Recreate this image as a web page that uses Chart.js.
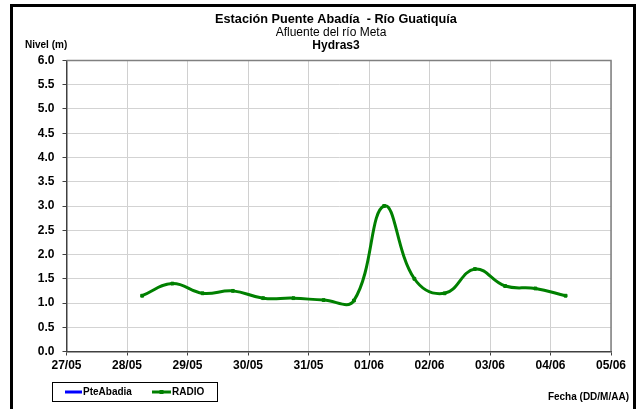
<!DOCTYPE html>
<html>
<head>
<meta charset="utf-8">
<script src="https://cdn.jsdelivr.net/npm/chart.js@4/dist/chart.umd.min.js"></script>
<style>
html,body{margin:0;padding:0;background:#fff;}
canvas{display:block;}
</style>
</head>
<body>
<canvas id="c" width="640" height="409"></canvas>
<script>
// ---- data ----
const tickLabels = ['27/05','28/05','29/05','30/05','31/05','01/06','02/06','03/06','04/06','05/06'];
const yTicks = [0,0.5,1,1.5,2,2.5,3,3.5,4,4.5,5,5.5,6];
const fechas = ['28/05 06:00','28/05 18:00','29/05 06:00','29/05 18:00','30/05 06:00','30/05 18:00',
                '31/05 06:00','31/05 18:00','01/06 06:00','01/06 18:00','02/06 06:00','02/06 18:00',
                '03/06 06:00','03/06 18:00','04/06 06:00'];
const radio = [1.15,1.40,1.20,1.25,1.10,1.10,1.06,1.05,3.00,1.50,1.20,1.70,1.35,1.30,1.15];
const pteAbadia = [];
const seriesNames = ['PteAbadia','RADIO'];
const titleLines = ['Estación Puente Abadía  - Río Guatiquía','Afluente del río Meta','Hydras3'];
const yTitle = 'Nivel (m)';
const xTitle = 'Fecha (DD/M/AA)';

function toX(s){
  const [d,t] = s.split(' ');
  const [hh,mm] = t.split(':').map(Number);
  return tickLabels.indexOf(d) + hh/24 + mm/1440;
}
const radioPts = fechas.map((f,i)=>({x:toX(f), y:radio[i]}));

const FONT = '"Liberation Sans", Arial, sans-serif';
Chart.defaults.font.family = FONT;

const decor = {
  id:'decor',
  beforeDatasetsDraw(chart){
    const {ctx, chartArea:a} = chart;
    ctx.save();
    ctx.strokeStyle = '#808080';
    ctx.lineWidth = 1.5;
    ctx.beginPath();
    ctx.moveTo(a.left, a.top); ctx.lineTo(a.right, a.top); ctx.lineTo(a.right, a.bottom);
    ctx.stroke();
    ctx.restore();
  },
  afterDraw(chart){
    const ctx = chart.ctx;
    ctx.save();
    ctx.fillStyle = '#000';
    ctx.textAlign = 'center';
    ctx.textBaseline = 'middle';
    ctx.font = 'bold 12.7px ' + FONT;
    ctx.fillText(titleLines[0], 336, 19.5);
    ctx.font = '12px ' + FONT;
    ctx.fillText(titleLines[1], 331, 33);
    ctx.font = 'bold 12px ' + FONT;
    ctx.fillText(titleLines[2], 336, 45.5);
    ctx.font = 'bold 10px ' + FONT;
    ctx.textAlign = 'left';
    ctx.fillText(yTitle, 25, 45);
    ctx.textAlign = 'right';
    ctx.fillText(xTitle, 629, 397);
    // legend
    ctx.lineWidth = 1;
    ctx.strokeStyle = '#000';
    ctx.strokeRect(52.5, 382.5, 165, 19);
    const ds = chart.data.datasets;
    const items = [{x0:65,x1:82,tx:83},{x0:152,x1:171,tx:172}];
    ctx.textAlign = 'left';
    ctx.font = 'bold 10px ' + FONT;
    items.forEach((it,i)=>{
      ctx.strokeStyle = ds[i].borderColor;
      ctx.lineWidth = 3;
      ctx.beginPath(); ctx.moveTo(it.x0, 392); ctx.lineTo(it.x1, 392); ctx.stroke();
      if (ds[i].pointRadius > 0) {
        ctx.fillStyle = ds[i].borderColor;
        ctx.fillRect((it.x0+it.x1)/2-2, 390, 4, 4);
      }
      ctx.fillStyle = '#000';
      ctx.fillText(ds[i].label, it.tx, 392);
    });
    // outer frame
    ctx.lineWidth = 3;
    ctx.strokeStyle = '#000';
    ctx.strokeRect(11.5, 5.5, 623, 430);
    ctx.restore();
  }
};

new Chart(document.getElementById('c'), {
  type:'line',
  data:{
    datasets:[
      {label:seriesNames[0], data:pteAbadia, borderColor:'#0000ff', backgroundColor:'#0000ff', borderWidth:3, pointRadius:0},
      {label:seriesNames[1], data:radioPts, borderColor:'#008000', backgroundColor:'#008000', borderWidth:3,
       pointRadius:2, pointStyle:'rect', pointBorderWidth:1, tension:0.42}
    ]
  },
  options:{
    responsive:false,
    animation:false,
    events:[],
    layout:{padding:{top:60.5, right:29, left:0, bottom:0}},
    plugins:{legend:{display:false}, title:{display:false}, tooltip:{enabled:false}},
    scales:{
      x:{
        type:'linear', min:0, max:9,
        afterFit(s){ s.height = 57.5; },
        afterBuildTicks(s){ s.ticks = tickLabels.map((_,i)=>({value:i})); },
        ticks:{ callback:(v)=>tickLabels[v], color:'#000', font:{size:12, weight:'bold'}, padding:3, maxRotation:0, autoSkip:false },
        grid:{ color:'#d0d0d0', lineWidth:1, tickLength:4, tickColor:'#404040' },
        border:{ color:'#404040', width:1.5 }
      },
      y:{
        min:0, max:6,
        afterFit(s){ s.width = 66.5; },
        afterBuildTicks(s){ s.ticks = yTicks.map(v=>({value:v})); },
        ticks:{ callback:(v)=>Number(v).toFixed(1), color:'#000', font:{size:12, weight:'bold'}, padding:8 },
        grid:{ color:'#d3d3d3', lineWidth:1, tickLength:4, tickColor:'#404040' },
        border:{ color:'#404040', width:1.5 }
      }
    }
  },
  plugins:[decor]
});
</script>
</body>
</html>
